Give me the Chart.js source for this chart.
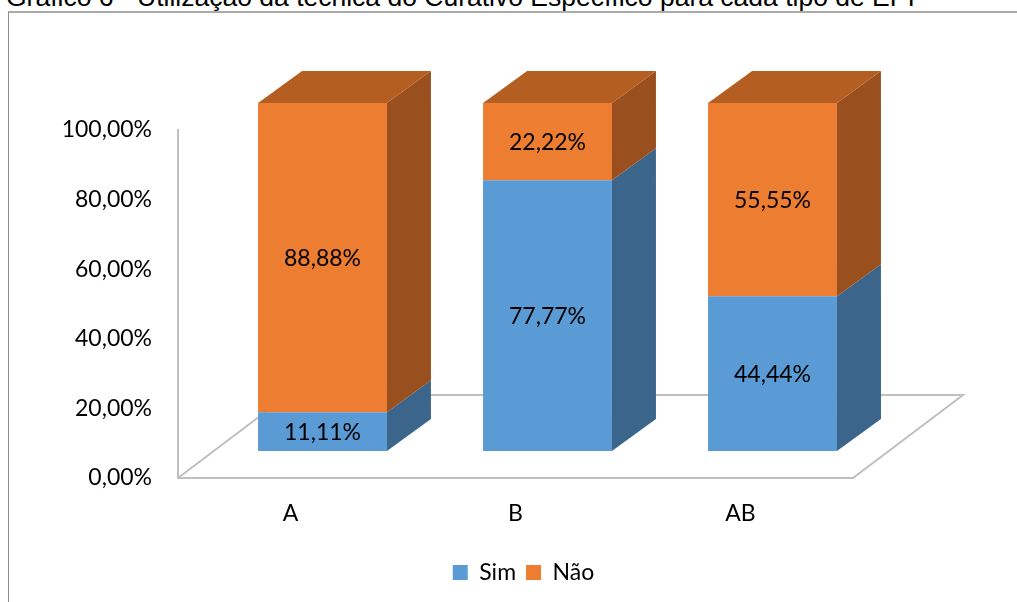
<!DOCTYPE html>
<html>
<head>
<meta charset="utf-8">
<script src="https://cdn.jsdelivr.net/npm/chart.js@4/dist/chart.umd.min.js"></script>
<style>
  html, body { margin: 0; padding: 0; background: #fff; overflow: hidden; }
  #frame { position: absolute; left: 8px; top: 11px; width: 1100px; height: 700px;
           border-left: 1px solid #8c8c8c; border-top: 2px solid #ababab; }
  #titulo { position: absolute; left: 6px; top: -16px; white-space: nowrap;
            font-family: "Liberation Sans", Arial, sans-serif; font-size: 26.5px; line-height: 26px; color: #000; }
  #myChart { position: absolute; left: 0; top: 0; }
</style>
</head>
<body>
<div id="frame"></div>
<div id="titulo">Gráfico 6 - Utilização da técnica do Curativo Específico para cada tipo de EPI</div>
<canvas id="myChart" width="1017" height="602"></canvas>
<script>
const categorias = ['A', 'B', 'AB'];
const sim = [11.11, 77.77, 44.44];
const nao = [88.88, 22.22, 55.55];
const yTicks = ['0,00%', '20,00%', '40,00%', '60,00%', '80,00%', '100,00%'];

const fonte = 'Lato';
// deslocamento 3D das barras e do piso
const barraDx = 32, barraDy = -27;
const fundoDx = 44, fundoDy = -32;
const pisoDx = 110, pisoDy = -83;

function fmt(v) {
  return v.toFixed(2).replace('.', ',') + '%';
}

const piso = {
  id: 'piso',
  beforeDatasetsDraw(chart) {
    const ctx = chart.ctx;
    const a = chart.chartArea;
    ctx.save();
    ctx.strokeStyle = '#bfbfbf';
    ctx.lineWidth = 2;
    ctx.beginPath();
    ctx.moveTo(a.left, a.bottom);
    ctx.lineTo(a.left + pisoDx, a.bottom + pisoDy);
    ctx.lineTo(a.right + pisoDx, a.bottom + pisoDy);
    ctx.lineTo(a.right, a.bottom);
    ctx.stroke();
    ctx.restore();
    ctx.save();
    ctx.translate(barraDx, barraDy);
  },
  afterDatasetsDraw(chart) {
    const ctx = chart.ctx;
    const lados = ['#3b658a', '#9a4f1e'];
    const topos = ['#4a7fae', '#b55e22'];
    const n = chart.data.datasets.length;
    for (let d = 0; d < n; d++) {
      const meta = chart.getDatasetMeta(d);
      meta.data.forEach(function (bar) {
        const p = bar.getProps(['x', 'y', 'base', 'width'], true);
        const dir = p.x + p.width / 2;
        const esq = p.x - p.width / 2;
        ctx.fillStyle = lados[d];
        ctx.beginPath();
        ctx.moveTo(dir, p.y);
        ctx.lineTo(dir + fundoDx, p.y + fundoDy);
        ctx.lineTo(dir + fundoDx, p.base + fundoDy);
        ctx.lineTo(dir, p.base);
        ctx.closePath();
        ctx.fill();
        if (d === n - 1) {
          ctx.fillStyle = topos[d];
          ctx.beginPath();
          ctx.moveTo(esq, p.y);
          ctx.lineTo(esq + fundoDx, p.y + fundoDy);
          ctx.lineTo(dir + fundoDx, p.y + fundoDy);
          ctx.lineTo(dir, p.y);
          ctx.closePath();
          ctx.fill();
        }
      });
    }
    // rótulos de dados
    ctx.fillStyle = '#000';
    ctx.font = '23px ' + fonte;
    ctx.textAlign = 'center';
    ctx.textBaseline = 'middle';
    for (let d = 0; d < n; d++) {
      const meta = chart.getDatasetMeta(d);
      meta.data.forEach(function (bar, i) {
        const p = bar.getProps(['x', 'y', 'base'], true);
        ctx.fillText(fmt(chart.data.datasets[d].data[i]), p.x, (p.y + p.base) / 2 + 1);
      });
    }
    ctx.restore();
  }
};

const data = {
  labels: categorias,
  datasets: [
    { label: 'Sim', data: sim, backgroundColor: '#5b9bd5' },
    { label: 'Não', data: nao, backgroundColor: '#ed7d31' }
  ]
};

const config = {
  type: 'bar',
  data: data,
  options: {
    responsive: false,
    animation: false,
    layout: { padding: { left: 30, right: 0, top: 130, bottom: 8 } },
    datasets: { bar: { categoryPercentage: 1, barPercentage: 0.573 } },
    scales: {
      x: {
        stacked: true,
        grid: { display: false, drawTicks: false },
        border: { color: '#bfbfbf', width: 2 },
        ticks: { color: '#000', font: { family: fonte, size: 23 }, padding: 22 },
        afterFit(scale) { scale.height = 73; }
      },
      y: {
        stacked: true,
        min: 0,
        max: 100,
        grid: { display: false, drawTicks: false },
        border: { color: '#bfbfbf', width: 2 },
        ticks: {
          stepSize: 20,
          color: '#000',
          font: { family: fonte, size: 23 },
          padding: 26,
          callback: function (v, i) { return yTicks[i]; }
        },
        afterFit(scale) { scale.width = 148; }
      },
      espaco: {
        type: 'linear',
        position: 'right',
        grid: { display: false, drawTicks: false },
        border: { display: false },
        ticks: { display: false },
        afterFit(scale) { scale.width = 164; }
      }
    },
    plugins: {
      legend: {
        position: 'bottom',
        labels: { color: '#000', font: { family: fonte, size: 23 }, boxWidth: 15, boxHeight: 15, padding: 10 }
      },
      tooltip: { enabled: false }
    }
  },
  plugins: [piso]
};

const myChart = new Chart(document.getElementById('myChart'), config);
</script>
</body>
</html>
